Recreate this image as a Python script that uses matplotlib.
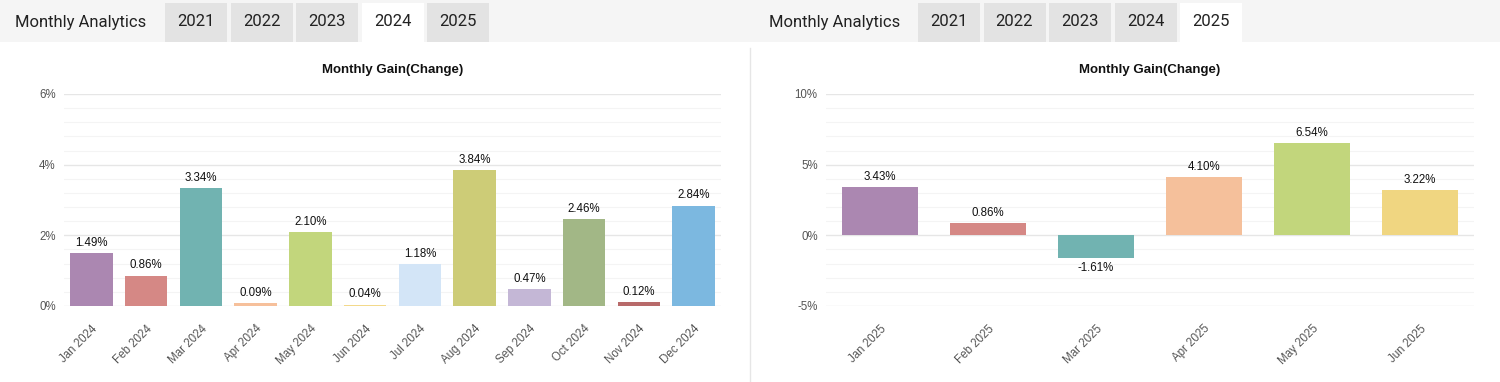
import matplotlib.pyplot as plt
from matplotlib.patches import Rectangle
from matplotlib.ticker import MultipleLocator, FuncFormatter

W, H = 1500, 382

# data
months_2024 = ['Jan 2024', 'Feb 2024', 'Mar 2024', 'Apr 2024', 'May 2024', 'Jun 2024',
               'Jul 2024', 'Aug 2024', 'Sep 2024', 'Oct 2024', 'Nov 2024', 'Dec 2024']
gain_2024 = [1.49, 0.86, 3.34, 0.09, 2.10, 0.04, 1.18, 3.84, 0.47, 2.46, 0.12, 2.84]
colors_2024 = ['#ab87b1', '#d58885', '#71b3b1', '#f6c09b', '#c2d67c', '#f3d98b',
               '#d3e5f7', '#cdcc77', '#c4b7d6', '#a2b786', '#b86a6a', '#7cb8e0']

months_2025 = ['Jan 2025', 'Feb 2025', 'Mar 2025', 'Apr 2025', 'May 2025', 'Jun 2025']
gain_2025 = [3.43, 0.86, -1.61, 4.10, 6.54, 3.22]
colors_2025 = ['#ab87b1', '#d58885', '#71b3b1', '#f5c09b', '#c2d67c', '#f0d681']

years = ['2021', '2022', '2023', '2024', '2025']

fig = plt.figure(figsize=(W / 100, H / 100), dpi=100)
fig.patch.set_facecolor('white')

# page chrome: header band, tabs, divider
bg = fig.add_axes([0, 0, 1, 1], zorder=0)
bg.set_xlim(0, W)
bg.set_ylim(H, 0)
bg.axis('off')
bg.add_patch(Rectangle((0, 0), W, 42, color='#f5f5f5', lw=0))
bg.plot([750, 750], [48, H], color='#e6e6e6', lw=1)


def draw_tabs(x0, tab_x, active):
    bg.text(x0, 22, 'Monthly Analytics', fontsize=12, family='Roboto',
            color='#222222', ha='left', va='center')
    for i, y in enumerate(years):
        x = tab_x + i * 65.5
        face = 'white' if y == active else '#e3e3e3'
        bg.add_patch(Rectangle((x, 3), 62, 39, color=face, lw=0))
        bg.text(x + 31, 22, y, fontsize=12, family='Roboto',
                color='#222222', ha='center', va='center')


draw_tabs(15, 165, '2024')
draw_tabs(769, 918, '2025')


def pct(v, _):
    return f'{v:g}%'


def panel(rect, labels, values, colors, ylim, major, minor):
    l, t, r, b = rect
    ax = fig.add_axes([l / W, 1 - b / H, (r - l) / W, (b - t) / H], zorder=1)
    ax.set_facecolor('none')
    x = range(len(values))
    bars = ax.bar(x, values, width=0.78 if len(values) > 6 else 0.7,
                  color=colors, linewidth=0, zorder=3)
    ax.bar_label(bars, labels=[f'{v:.2f}%' for v in values], padding=3,
                 fontsize=8.3, family='Liberation Sans', color='#111111')
    ax.set_xlim(-0.5, len(values) - 0.5)
    ax.set_ylim(*ylim)
    ax.yaxis.set_major_locator(MultipleLocator(major))
    ax.yaxis.set_minor_locator(MultipleLocator(minor))
    ax.yaxis.set_major_formatter(FuncFormatter(pct))
    ax.grid(which='major', axis='y', color='#e6e6e6', lw=1, zorder=0)
    ax.grid(which='minor', axis='y', color='#f4f4f4', lw=0.8, zorder=0)
    ax.set_xticks(list(x))
    ax.set_xticklabels(labels, rotation=45, ha='right', rotation_mode='anchor')
    for s in ax.spines.values():
        s.set_visible(False)
    ax.tick_params(which='both', length=0)
    ax.tick_params(axis='y', pad=6)
    ax.tick_params(axis='x', pad=12)
    for lab in ax.get_xticklabels() + ax.get_yticklabels():
        lab.set_family('Liberation Sans')
        lab.set_fontsize(8.3)
        lab.set_color('#555555')
    ax.set_title('Monthly Gain(Change)', fontsize=9.5, fontweight='bold',
                 family='Liberation Sans', color='#111111', pad=15)
    return ax


panel((64, 94, 721, 306), months_2024, gain_2024, colors_2024, (0, 6), 2, 0.4)
panel((826, 94, 1474, 306), months_2025, gain_2025, colors_2025, (-5, 10), 5, 1)

fig.savefig('out.png', dpi=100)
